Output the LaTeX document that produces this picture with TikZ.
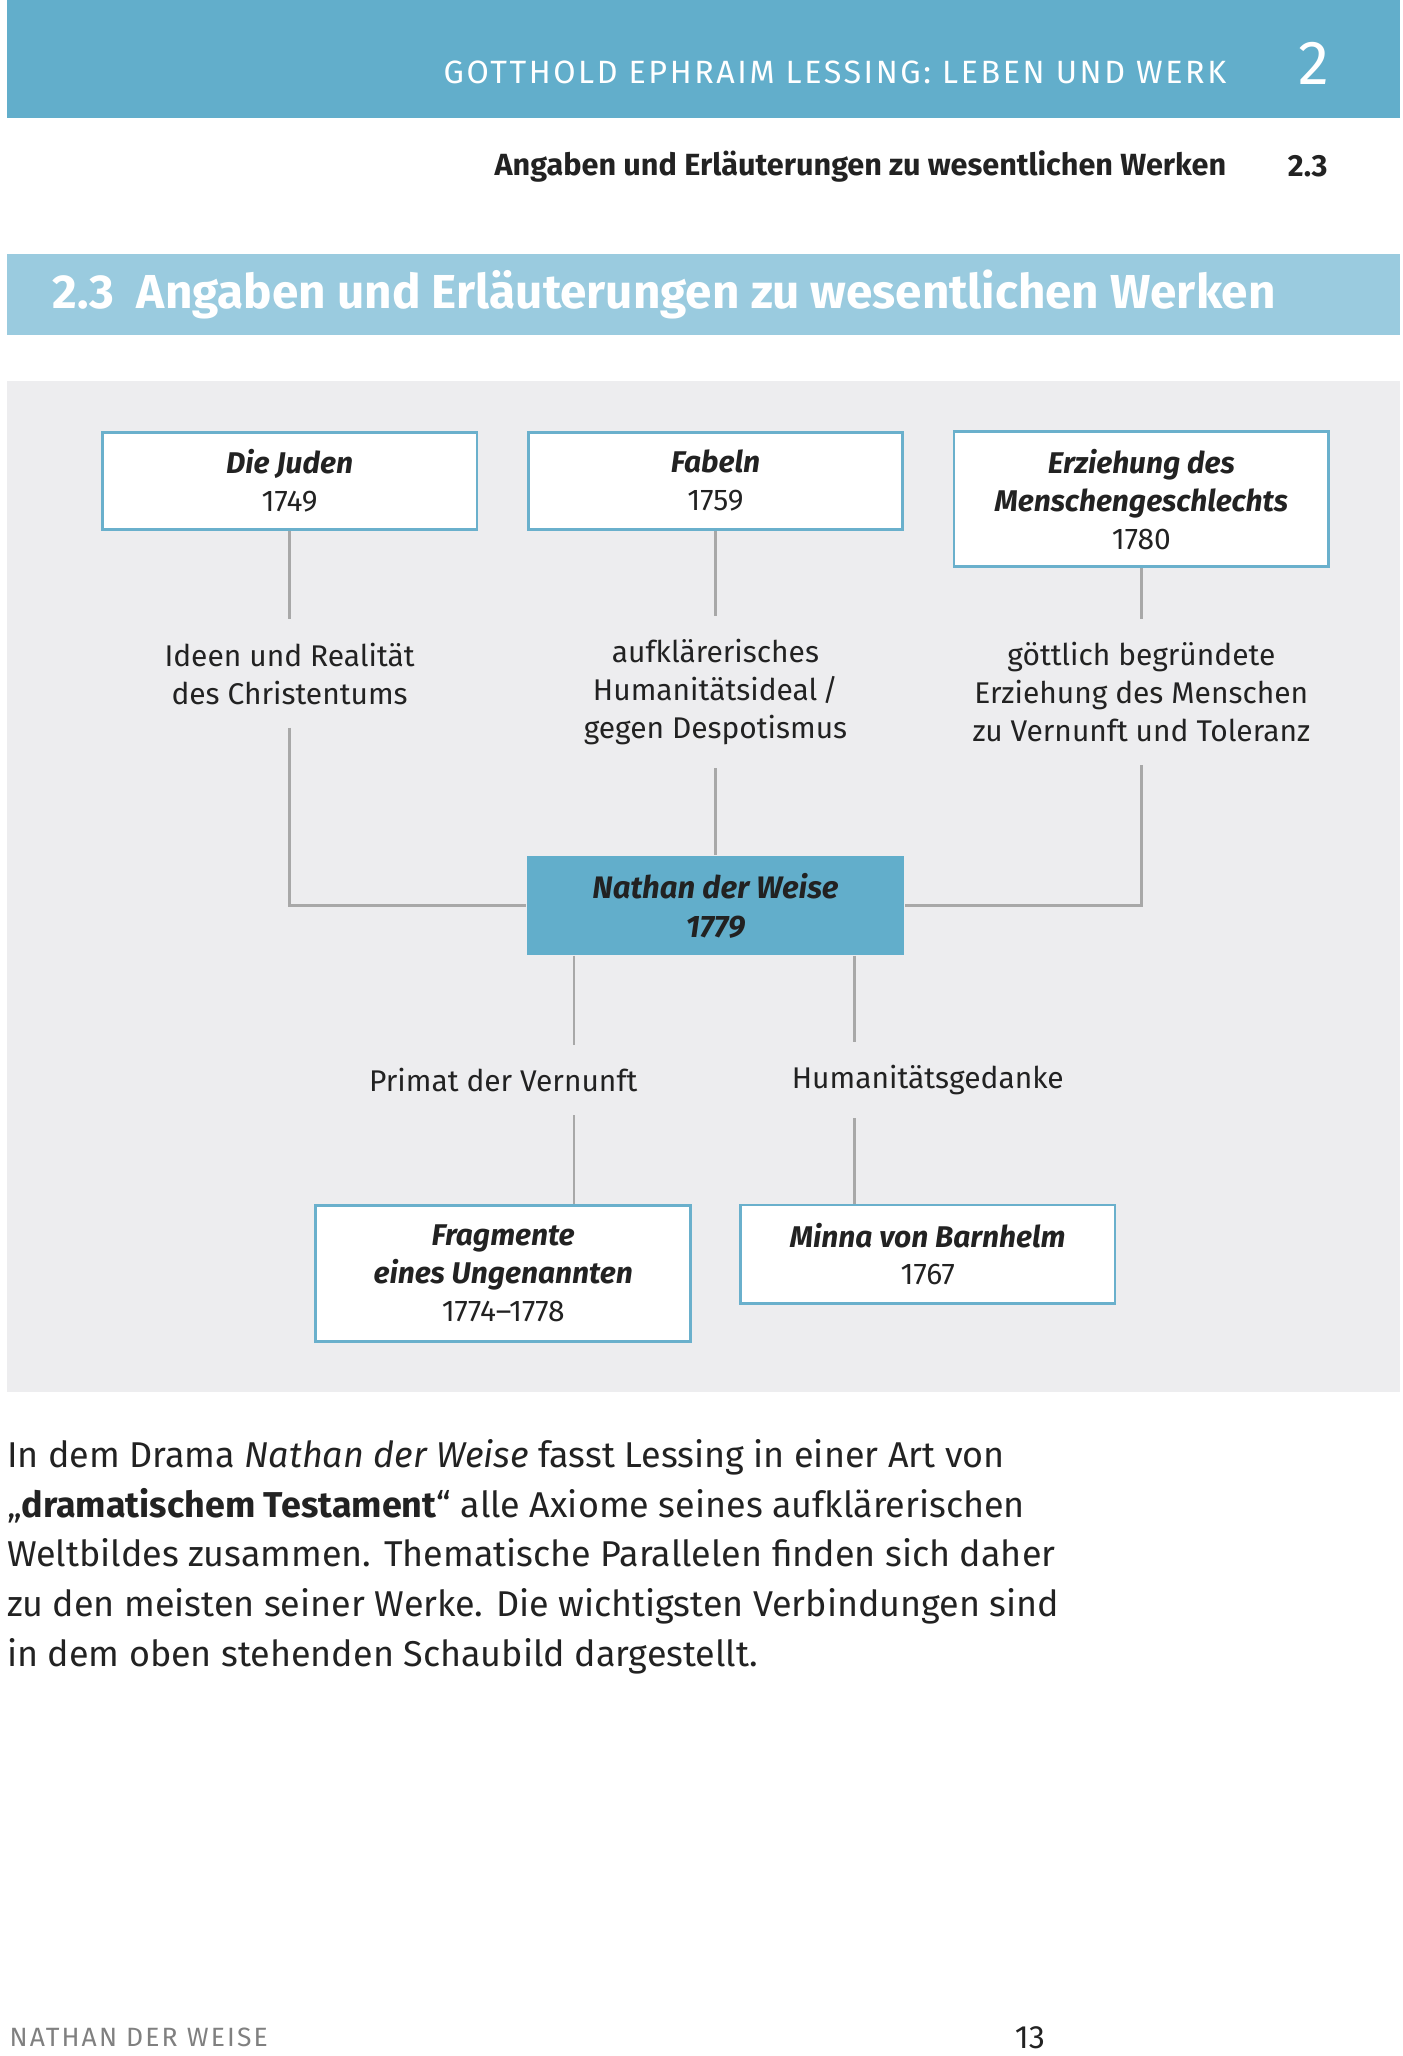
\documentclass[tikz,border=0pt]{standalone}
\usepackage{fontspec}
\setmainfont{Fira Sans}
\newfontfamily\spaced[LetterSpace=8]{Fira Sans}
\definecolor{banner}{HTML}{62AECB}
\definecolor{titlebar}{HTML}{9ACBDF}
\definecolor{panel}{HTML}{EDEDEF}
\definecolor{frame}{HTML}{6AB0CC}
\definecolor{link}{HTML}{A8A8A8}
\definecolor{ink}{HTML}{222222}
\tikzset{
  work/.style={draw=frame,line width=1.2pt,fill=white,minimum width=5.72cm,align=center,inner sep=0pt,font=\fontsize{13}{16.5}\selectfont,text=ink},
  topic/.style={align=center,inner sep=0.35cm,font=\fontsize{13}{16.5}\selectfont,text=ink},
  connect/.style={draw=link,line width=1.2pt}
}
\begin{document}
\begin{tikzpicture}[x=0.02cm,y=-0.02cm]
\useasboundingbox (0,0) rectangle (1070,1569);
% header
\fill[banner] (5,0) rectangle (1068,90);
\node[anchor=east,text=white,font=\fontsize{14}{16}\spaced] (running) at (942,55) {GOTTHOLD EPHRAIM LESSING: LEBEN UND WERK};
\node[text=white,font=\fontsize{27}{30}\selectfont] (chap) at (1003,48) {2};
\node[anchor=east,font=\fontsize{13.3}{16}\bfseries,text=ink] (sub) at (942,127) {Angaben und Erläuterungen zu wesentlichen Werken};
\node[font=\fontsize{13.3}{16}\bfseries,text=ink] (subnr) at (998,127) {2.3};
\fill[titlebar] (5,194) rectangle (1068,256);
\node[anchor=west,text=white,font=\fontsize{20.7}{24}\bfseries] (title) at (34,225) {2.3\ \ Angaben und Erläuterungen zu wesentlichen Werken};
% diagram
\fill[panel] (5,291) rectangle (1068,1062);
\node[work,minimum height=1.48cm] (juden) at (221,367) {\textbf{\itshape Die Juden}\\1749};
\node[work,minimum height=1.48cm] (fabeln) at (546,367) {\textbf{\itshape Fabeln}\\1759};
\node[work,minimum height=2.06cm] (erz) at (871,381) {\textbf{\itshape Erziehung des}\\\textbf{\itshape Menschengeschlechts}\\1780};
\node[topic] (ideen) at (221,514) {Ideen und Realität\\des Christentums};
\node[topic] (ideal) at (546,528) {aufklärerisches\\Humanitätsideal\,/\\gegen Despotismus};
\node[topic] (gott) at (871,528) {göttlich begründete\\Erziehung des Menschen\\zu Vernunft und Toleranz};
\node[fill=banner,minimum width=5.76cm,minimum height=1.52cm,align=center,text=ink,font=\fontsize{13.5}{17}\bfseries\itshape] (nathan) at (546,691) {Nathan der Weise\\1779};
\node[topic] (primat) at (384,824) {Primat der Vernunft};
\node[topic] (human) at (708,824) {Humanitätsgedanke};
\node[work,minimum height=2.08cm] (frag) at (384,972) {\textbf{\itshape Fragmente}\\\textbf{\itshape eines Ungenannten}\\1774--1778};
\node[work,minimum height=1.5cm] (minna) at (708,957) {\textbf{\itshape Minna von Barnhelm}\\1767};
\draw[connect] (juden) -- (ideen);
\draw[connect] (fabeln) -- (ideal);
\draw[connect] (erz) -- (gott);
\draw[connect] (ideen.south) |- (nathan.west);
\draw[connect] (ideal) -- (nathan);
\draw[connect] (gott.south) |- (nathan.east);
\draw[connect] (nathan.south -| frag.north east) ++(-90,0) coordinate (pa) -- (pa |- primat.north);
\draw[connect] (pa |- primat.south) -- (pa |- frag.north);
\draw[connect] (nathan.south -| minna.north west) ++(88,0) coordinate (pb) -- (pb |- human.north);
\draw[connect] (pb |- human.south) -- (pb |- minna.north);
% body text
\node[anchor=north west,align=left,inner sep=0pt,text=ink,font=\fontsize{15.6}{21.6}\selectfont] (body) at (5,1098) {In dem Drama \textit{Nathan der Weise} fasst Lessing in einer Art von\\
„\textbf{dramatischem Testament}“ alle Axiome seines aufklärerischen\\
Weltbildes zusammen. Thematische Parallelen finden sich daher\\
zu den meisten seiner Werke. Die wichtigsten Verbindungen sind\\
in dem oben stehenden Schaubild dargestellt.};
% footer
\node[anchor=west,inner sep=0pt,text=gray,font=\fontsize{11.5}{14}\spaced] (foot) at (7,1555) {NATHAN DER WEISE};
\node[inner sep=0pt,text=ink,font=\fontsize{14}{16}\selectfont] (page) at (786,1555) {13};
\end{tikzpicture}
\end{document}
